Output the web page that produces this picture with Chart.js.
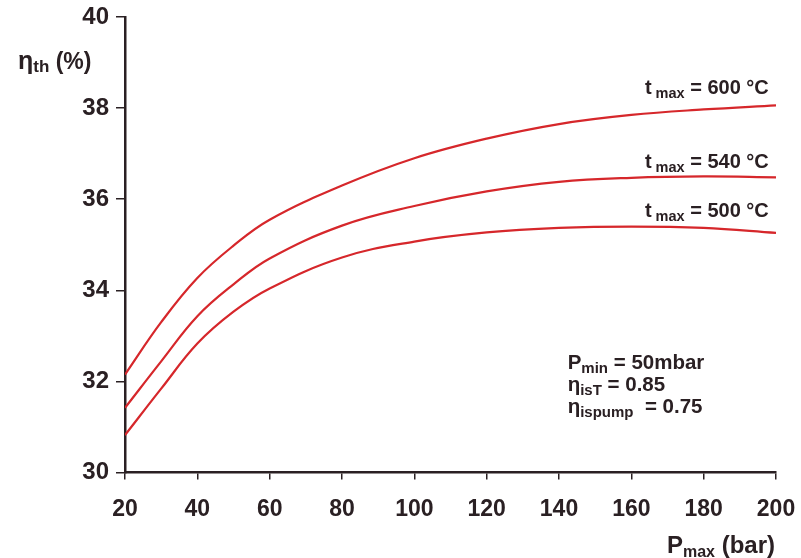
<!DOCTYPE html>
<html>
<head>
<meta charset="utf-8">
<script src="https://cdn.jsdelivr.net/npm/chart.js@4/dist/chart.umd.min.js"></script>
<style>
  html, body { margin: 0; padding: 0; background: #fff; }
  #wrap { width: 801px; height: 558px; }
</style>
</head>
<body>
<div id="wrap"><canvas id="c" width="801" height="558"></canvas></div>
<script>
const pmax = [20, 30, 40, 50, 60, 80, 100, 120, 140, 160, 180, 200];
const eta600 = [32.15, 33.3, 34.27, 34.98, 35.55, 36.3, 36.9, 37.33, 37.65, 37.85, 37.97, 38.06];
const eta540 = [31.42, 32.44, 33.43, 34.13, 34.7, 35.42, 35.85, 36.17, 36.38, 36.47, 36.5, 36.48];
const eta500 = [30.82, 31.84, 32.83, 33.53, 34.04, 34.72, 35.07, 35.27, 35.37, 35.4, 35.37, 35.26];

const curveLabels = [
  { temp: "600", x: 198, y: 38.3 },
  { temp: "540", x: 198, y: 36.69 },
  { temp: "500", x: 198, y: 35.62 },
];
const notes = [
  [["P", 20.5], ["min", 15, 4], [" = 50mbar", 20.5]],
  [["η", 20.5], ["isT", 15, 4], [" = 0.85", 20.5]],
  [["η", 20.5], ["ispump", 15, 4], ["  = 0.75", 20.5]],
];

const ink = "#2a2023";
const red = "#d6272b";
const fam = '"Liberation Sans", Arial, sans-serif';

function pts(ys) {
  return pmax.map((x, i) => ({ x: x, y: ys[i] }));
}

// draw a run of text pieces [text, size, dy]
function rich(ctx, parts, x, y, align) {
  let w = 0;
  parts.forEach(p => { ctx.font = "bold " + p[1] + "px " + fam; w += ctx.measureText(p[0]).width; });
  let cx = align === "right" ? x - w : x;
  parts.forEach(p => {
    ctx.font = "bold " + p[1] + "px " + fam;
    ctx.fillText(p[0], cx, y + (p[2] || 0));
    cx += ctx.measureText(p[0]).width;
  });
}

const textPlugin = {
  id: "texts",
  afterDraw(chart) {
    const ctx = chart.ctx;
    const xs = chart.scales.x, ys = chart.scales.y;
    ctx.save();
    ctx.fillStyle = ink;
    ctx.textBaseline = "alphabetic";
    curveLabels.forEach(l => {
      rich(ctx, [["t", 20], [" max", 14.5, 4], [" = " + l.temp + " °C", 20]],
        xs.getPixelForValue(l.x), ys.getPixelForValue(l.y), "right");
    });
    notes.forEach((n, i) => {
      rich(ctx, n, xs.getPixelForValue(142.4), ys.getPixelForValue(32.27) + i * 22, "left");
    });
    // axis titles
    rich(ctx, [["η", 25], ["th", 17, 3], [" (%)", 23]], 18, 69, "left");
    rich(ctx, [["P", 24], ["max", 16, 4], [" (bar)", 24]], xs.right - 1, 553, "right");
    ctx.restore();
  }
};

const lineSet = (ys) => ({
  data: pts(ys),
  borderColor: red,
  borderWidth: 2.2,
  pointRadius: 0,
  fill: false,
  tension: 0.4,
});

new Chart(document.getElementById("c"), {
  type: "line",
  data: { datasets: [lineSet(eta600), lineSet(eta540), lineSet(eta500)] },
  options: {
    responsive: false,
    animation: false,
    layout: { padding: { top: 17, right: 25, left: 0, bottom: 0 } },
    plugins: { legend: { display: false }, tooltip: { enabled: false } },
    scales: {
      x: {
        type: "linear", min: 20, max: 200,
        afterFit(s) { s.height = 85.5; s.paddingLeft = 0; s.paddingRight = 0; },
        ticks: { stepSize: 20, color: ink, padding: 16, maxRotation: 0,
          font: { family: fam, size: 23, weight: "bold" } },
        grid: { drawOnChartArea: false, tickLength: 7, color: ink, lineWidth: 1.5 },
        border: { color: ink, width: 2.5 },
      },
      y: {
        min: 30, max: 40,
        afterFit(s) { s.width = 125; s.paddingTop = 0; s.paddingBottom = 0; },
        ticks: { stepSize: 2, color: ink, padding: 7,
          font: { family: fam, size: 24, weight: "bold" } },
        grid: { drawOnChartArea: false, tickLength: 9, color: ink, lineWidth: 1.5 },
        border: { color: ink, width: 2.5 },
      },
    },
  },
  plugins: [textPlugin],
});
</script>
</body>
</html>
